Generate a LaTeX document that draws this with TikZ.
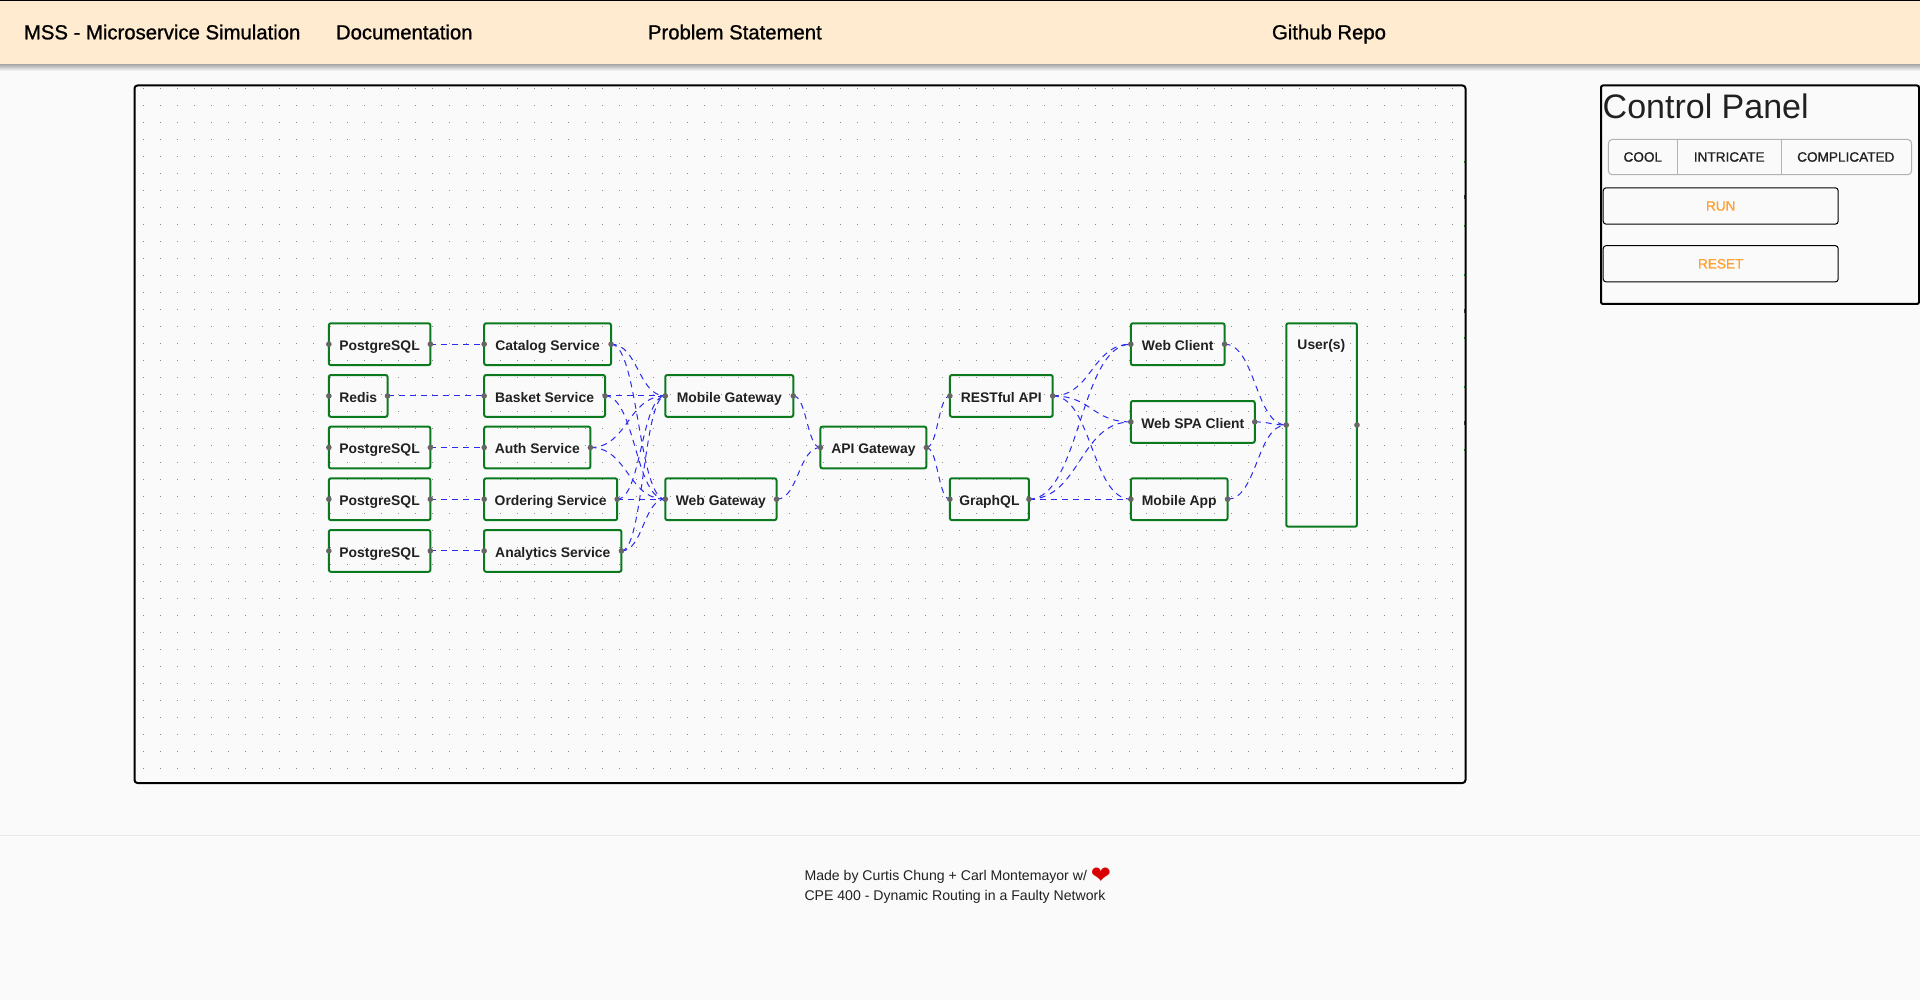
\documentclass[tikz,border=0pt]{standalone}
\usepackage{xcolor}
\usepackage{fontspec}
\setmainfont{Liberation Sans}
\newfontfamily\medfont[FakeBold=1]{Liberation Sans}
\newfontfamily\heartfont{DejaVu Sans}
\usepackage{tikz}
\usetikzlibrary{calc}
\definecolor{pageBg}{HTML}{FAFAFA}
\definecolor{barBg}{HTML}{FFEBD0}
\definecolor{flowGreen}{HTML}{0B7A1E}
\definecolor{edgeBlue}{HTML}{2A2AF0}
\definecolor{btnOrange}{HTML}{FFA030}
\definecolor{textDark}{HTML}{212121}
\tikzset{
	box/.style={draw=flowGreen, line width=2pt, rounded corners=2pt, outer sep=0pt, inner sep=0pt, minimum height=41.8pt, minimum width=#1, text=textDark, text height=12.6pt, text depth=0pt, font=\bfseries\fontsize{13.9}{17}\selectfont},
	tag/.style={anchor=base west, inner sep=0pt, outer sep=0pt, text=black, font=\medfont\fontsize{20.3}{24}\selectfont},
	toggle/.style={inner sep=0pt, text=textDark, font=\medfont\fontsize{13.6}{16}\selectfont},
	btn/.style={draw=black, line width=1pt, rounded corners=3pt, inner sep=0pt, minimum width=235pt, minimum height=36.4pt, text=btnOrange, font=\medfont\fontsize{13.6}{16}\selectfont},
	note/.style={anchor=base west, inner sep=0pt, text=textDark, font=\fontsize{14.1}{17}\selectfont},
	griddot/.style={fill=black!45},
	handle/.style={fill=black!60},
	link/.style={draw=edgeBlue, line width=1pt, dash pattern=on 6pt off 5pt},
}
\begin{document}
\begin{tikzpicture}[x=1pt, y=-1pt]
	\useasboundingbox (0,0) rectangle (1920,1000);
	\fill[pageBg] (0,0) rectangle (1920,1000);

	% top bar
	\shade[top color=black!40, bottom color=pageBg] (0,63) rectangle (1920,71);
	\fill[barBg] (0,0) rectangle (1920,64);
	\fill[black] (0,0) rectangle (1920,1);
	\node[tag] (title) at (24,39.3) {MSS - Microservice Simulation};
	\node[tag] (docs) at (336,39.3) {Documentation};
	\node[tag] (problem) at (648,39.3) {Problem Statement};
	\node[tag] (repo) at (1272,39.3) {Github Repo};

	% canvas
	\foreach \i in {0,...,77}
		\foreach \j in {0,...,40}
			\fill[griddot] ({143.1+17*\i},{87.9+17*\j}) rectangle ++(1.3,1.3);
	\draw[black, line width=2pt, rounded corners=3pt] (134.5,85.5) rectangle (1465.5,783);
	\foreach \y in {162.3,225.7,275,337.7,387.3,450}
		\fill[flowGreen] (1463.5,\y-1) rectangle (1464.5,\y+1);
	\foreach \y in {196.7,311,423.3}
		\fill[black!80] (1463.5,\y-2) rectangle (1464.5,\y+2);

	% databases
	\node[box=101.5pt] (pgCatalog) at (379.6,344.2) {PostgreSQL};
	\node[box=58.7pt] (redis) at (358.2,395.9) {Redis};
	\node[box=101.5pt] (pgAuth) at (379.6,447.5) {PostgreSQL};
	\node[box=101.5pt] (pgOrdering) at (379.6,499.2) {PostgreSQL};
	\node[box=101.5pt] (pgAnalytics) at (379.6,550.9) {PostgreSQL};

	% services
	\node[box=126.9pt] (catalog) at (547.6,344.2) {Catalog Service};
	\node[box=120.9pt] (basket) at (544.6,395.9) {Basket Service};
	\node[box=106.2pt] (auth) at (537.3,447.5) {Auth Service};
	\node[box=133pt] (ordering) at (550.7,499.2) {Ordering Service};
	\node[box=137.3pt] (analytics) at (552.8,550.9) {Analytics Service};

	% gateways
	\node[box=128pt] (mobileGw) at (729.3,395.9) {Mobile Gateway};
	\node[box=111.2pt] (webGw) at (720.9,499.2) {Web Gateway};
	\node[box=105.9pt] (apiGw) at (873.4,447.5) {API Gateway};
	\node[box=102.8pt] (rest) at (1001.3,395.9) {RESTful API};
	\node[box=79.1pt] (graphql) at (989.4,499.2) {GraphQL};

	% clients
	\node[box=93.7pt] (webClient) at (1177.7,344.2) {Web Client};
	\node[box=123.9pt] (spaClient) at (1192.8,421.9) {Web SPA Client};
	\node[box=96.7pt] (mobileApp) at (1179.2,499.2) {Mobile App};
	\node[box=70.7pt, minimum height=203.4pt] (users) at (1321.6,425) {};
	\node[inner sep=0pt, text=textDark, font=\bfseries\fontsize{13.9}{17}\selectfont] (usersTag) at (1321.4,346) {User(s)};

	% edges
	\foreach \a/\b in {pgCatalog/catalog, redis/basket, pgAuth/auth, pgOrdering/ordering, pgAnalytics/analytics,
		catalog/mobileGw, catalog/webGw, basket/mobileGw, basket/webGw, auth/mobileGw, auth/webGw,
		ordering/mobileGw, ordering/webGw, analytics/mobileGw, analytics/webGw,
		mobileGw/apiGw, webGw/apiGw, apiGw/rest, apiGw/graphql,
		rest/webClient, rest/spaClient, rest/mobileApp, graphql/webClient, graphql/spaClient, graphql/mobileApp,
		webClient/users, spaClient/users, mobileApp/users}
		\draw[link] let \p1=(\a.east), \p2=(\b.west), \n1={0.5*(\x2-\x1)} in
			(\p1) .. controls (\x1+\n1,\y1) and (\x2-\n1,\y2) .. (\p2);

	% handles
	\foreach \n in {pgCatalog, redis, pgAuth, pgOrdering, pgAnalytics, catalog, basket, auth, ordering, analytics,
		mobileGw, webGw, apiGw, rest, graphql, webClient, spaClient, mobileApp, users} {
		\fill[handle] (\n.west) circle (2.8);
		\fill[handle] (\n.east) circle (2.8);
	}

	% control panel
	\draw[black, line width=2pt, rounded corners=2pt] (1601,85.5) rectangle (1919,304);
	\node[inner sep=0pt, anchor=west, text=textDark, font=\fontsize{34}{40}\selectfont] (panelTitle) at (1602.5,106.5) {Control Panel};
	\draw[black!30, line width=1pt, rounded corners=4pt] (1608.3,139.5) rectangle (1911.7,174.7);
	\draw[black!30, line width=1pt] (1677.3,139.5) -- (1677.3,174.7);
	\draw[black!30, line width=1pt] (1781.3,139.5) -- (1781.3,174.7);
	\node[toggle] (cool) at (1642.8,157) {COOL};
	\node[toggle] (intricate) at (1729.2,157) {INTRICATE};
	\node[toggle] (complicated) at (1845.8,157) {COMPLICATED};
	\node[btn] (run) at (1720.7,206) {RUN};
	\node[btn] (reset) at (1720.7,263.8) {RESET};

	% footer
	\draw[black!9, line width=1pt] (0,835) -- (1920,835);
	\node[note] (credit) at (804.3,880) {Made by Curtis Chung + Carl Montemayor w/ \raisebox{-3.5pt}{\textcolor{red!85!black}{\heartfont\fontsize{24}{24}\selectfont ❤}}};
	\node[note] (course) at (804.3,900.5) {CPE 400 - Dynamic Routing in a Faulty Network};
\end{tikzpicture}
\end{document}
